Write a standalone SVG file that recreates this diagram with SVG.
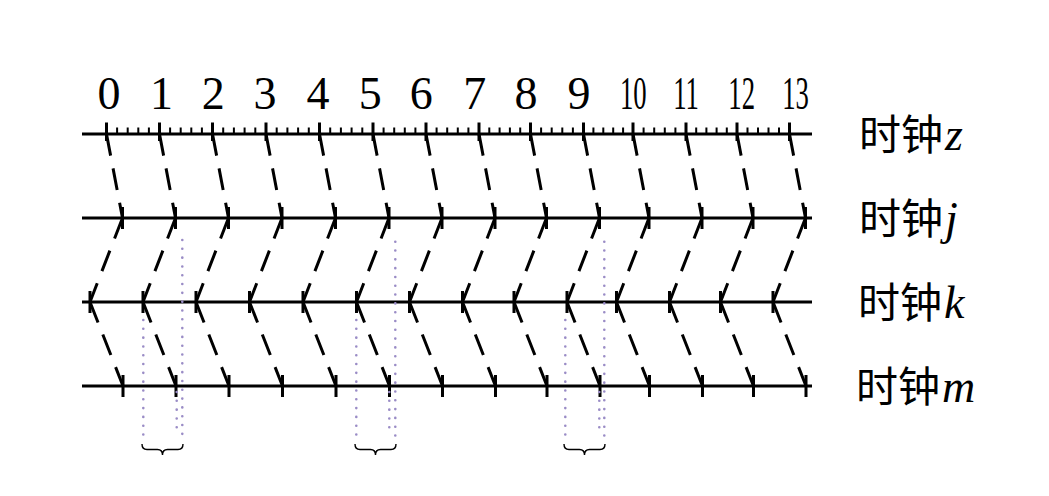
<svg xmlns="http://www.w3.org/2000/svg" width="1049" height="496" viewBox="0 0 1049 496">
<style>
.axis{stroke:#000;stroke-width:3;fill:none}
.tick{stroke:#000;stroke-width:3;fill:none}
.minor{stroke:#000;stroke-width:2;fill:none}
.msg{stroke:#000;stroke-width:3;stroke-dasharray:22 13;fill:none}
.dot{stroke:#9a8cc6;stroke-width:2.6;stroke-linecap:round;stroke-dasharray:0.01 8.8;fill:none}
.brace{stroke:#000;stroke-width:1.4;fill:none}
.num{font-family:"Liberation Serif",serif;font-size:46px;fill:#000;text-anchor:middle}
.lbl{font-family:"Noto Sans CJK SC",sans-serif;font-size:42px;fill:#000}
.var{font-family:"Liberation Serif",serif;font-style:italic;font-size:46px}
</style>
<rect width="1049" height="496" fill="#fff"/>
<g id="scale-labels">
<text class="num" x="109" y="108.5">0</text>
<text class="num" x="161.5" y="108.5">1</text>
<text class="num" x="213.3" y="108.5">2</text>
<text class="num" x="265" y="108.5">3</text>
<text class="num" x="318" y="108.5">4</text>
<text class="num" x="370.3" y="108.5">5</text>
<text class="num" x="421.3" y="108.5">6</text>
<text class="num" x="474.7" y="108.5">7</text>
<text class="num" x="526" y="108.5">8</text>
<text class="num" x="579" y="108.5">9</text>
<text class="num" transform="translate(633.3,108.5) scale(0.58,1)">10</text>
<text class="num" transform="translate(686,108.5) scale(0.58,1)">11</text>
<text class="num" transform="translate(741.7,108.5) scale(0.58,1)">12</text>
<text class="num" transform="translate(795.5,108.5) scale(0.58,1)">13</text>
</g>
<g id="clock-z">
<line class="axis" x1="82" y1="134" x2="812" y2="134"/>
<path class="minor" d="M117.1,127.5V134M127.7,127.5V134M138.3,127.5V134M148.9,127.5V134M170.1,127.5V134M180.7,127.5V134M191.3,127.5V134M201.9,127.5V134M223.2,127.5V134M233.9,127.5V134M244.6,127.5V134M255.3,127.5V134M276.7,127.5V134M287.4,127.5V134M298.1,127.5V134M308.8,127.5V134M330.2,127.5V134M340.9,127.5V134M351.6,127.5V134M362.3,127.5V134M383.6,127.5V134M394.2,127.5V134M404.8,127.5V134M415.4,127.5V134M436.6,127.5V134M447.2,127.5V134M457.8,127.5V134M468.4,127.5V134M489.3,127.5V134M499.6,127.5V134M509.9,127.5V134M520.2,127.5V134M541.1,127.5V134M551.7,127.5V134M562.3,127.5V134M572.9,127.5V134M593.4,127.5V134M603.3,127.5V134M613.2,127.5V134M623.1,127.5V134M643.6,127.5V134M654.2,127.5V134M664.8,127.5V134M675.4,127.5V134M696.2,127.5V134M706.4,127.5V134M716.6,127.5V134M726.8,127.5V134M747.5,127.5V134M758,127.5V134M768.5,127.5V134M779,127.5V134"/>
<path class="tick" d="M106.5,122.5V141M159.5,122.5V141M212.5,122.5V141M266,122.5V141M319.5,122.5V141M373,122.5V141M426,122.5V141M479,122.5V141M530.5,122.5V141M583.5,122.5V141M633,122.5V141M686,122.5V141M737,122.5V141M789.5,122.5V141"/>
<text class="lbl" x="859" y="150">时钟<tspan class="var" dx="2">z</tspan></text>
</g>
<g id="clock-j">
<line class="axis" x1="82" y1="218" x2="812" y2="218"/>
<path class="tick" d="M122.5,207V229M175.5,207V229M228.5,207V229M282,207V229M335.5,207V229M389,207V229M442,207V229M495,207V229M546.5,207V229M599.5,207V229M649,207V229M702,207V229M753,207V229M805.5,207V229"/>
<text class="lbl" x="859" y="234">时钟<tspan class="var" dx="2">j</tspan></text>
</g>
<g id="clock-k">
<line class="axis" x1="82" y1="302" x2="812" y2="302"/>
<path class="tick" d="M90,291V313M143,291V313M196,291V313M249.5,291V313M303,291V313M356.5,291V313M409.5,291V313M462.5,291V313M514,291V313M567,291V313M616.5,291V313M669.5,291V313M720.5,291V313M773,291V313"/>
<text class="lbl" x="858" y="318">时钟<tspan class="var" dx="2">k</tspan></text>
</g>
<g id="clock-m">
<line class="axis" x1="82" y1="386" x2="812" y2="386"/>
<path class="tick" d="M123,375V397M176,375V397M229,375V397M282.5,375V397M336,375V397M389.5,375V397M442.5,375V397M495.5,375V397M547,375V397M600,375V397M649.5,375V397M702.5,375V397M753.5,375V397M806,375V397"/>
<text class="lbl" x="856" y="402">时钟<tspan class="var" dx="2">m</tspan></text>
</g>
<g id="connectors">
<line class="msg" x1="106.5" y1="134" x2="122.5" y2="218"/>
<line class="msg" x1="159.5" y1="134" x2="175.5" y2="218"/>
<line class="msg" x1="212.5" y1="134" x2="228.5" y2="218"/>
<line class="msg" x1="266" y1="134" x2="282" y2="218"/>
<line class="msg" x1="319.5" y1="134" x2="335.5" y2="218"/>
<line class="msg" x1="373" y1="134" x2="389" y2="218"/>
<line class="msg" x1="426" y1="134" x2="442" y2="218"/>
<line class="msg" x1="479" y1="134" x2="495" y2="218"/>
<line class="msg" x1="530.5" y1="134" x2="546.5" y2="218"/>
<line class="msg" x1="583.5" y1="134" x2="599.5" y2="218"/>
<line class="msg" x1="633" y1="134" x2="649" y2="218"/>
<line class="msg" x1="686" y1="134" x2="702" y2="218"/>
<line class="msg" x1="737" y1="134" x2="753" y2="218"/>
<line class="msg" x1="789.5" y1="134" x2="805.5" y2="218"/>
<line class="msg" x1="122.5" y1="218" x2="90" y2="302"/>
<line class="msg" x1="175.5" y1="218" x2="143" y2="302"/>
<line class="msg" x1="228.5" y1="218" x2="196" y2="302"/>
<line class="msg" x1="282" y1="218" x2="249.5" y2="302"/>
<line class="msg" x1="335.5" y1="218" x2="303" y2="302"/>
<line class="msg" x1="389" y1="218" x2="356.5" y2="302"/>
<line class="msg" x1="442" y1="218" x2="409.5" y2="302"/>
<line class="msg" x1="495" y1="218" x2="462.5" y2="302"/>
<line class="msg" x1="546.5" y1="218" x2="514" y2="302"/>
<line class="msg" x1="599.5" y1="218" x2="567" y2="302"/>
<line class="msg" x1="649" y1="218" x2="616.5" y2="302"/>
<line class="msg" x1="702" y1="218" x2="669.5" y2="302"/>
<line class="msg" x1="753" y1="218" x2="720.5" y2="302"/>
<line class="msg" x1="805.5" y1="218" x2="773" y2="302"/>
<line class="msg" x1="90" y1="302" x2="123" y2="386"/>
<line class="msg" x1="143" y1="302" x2="176" y2="386"/>
<line class="msg" x1="196" y1="302" x2="229" y2="386"/>
<line class="msg" x1="249.5" y1="302" x2="282.5" y2="386"/>
<line class="msg" x1="303" y1="302" x2="336" y2="386"/>
<line class="msg" x1="356.5" y1="302" x2="389.5" y2="386"/>
<line class="msg" x1="409.5" y1="302" x2="442.5" y2="386"/>
<line class="msg" x1="462.5" y1="302" x2="495.5" y2="386"/>
<line class="msg" x1="514" y1="302" x2="547" y2="386"/>
<line class="msg" x1="567" y1="302" x2="600" y2="386"/>
<line class="msg" x1="616.5" y1="302" x2="649.5" y2="386"/>
<line class="msg" x1="669.5" y1="302" x2="702.5" y2="386"/>
<line class="msg" x1="720.5" y1="302" x2="753.5" y2="386"/>
<line class="msg" x1="773" y1="302" x2="806" y2="386"/>
</g>
<g id="intervals">
<line class="dot" x1="143.3" y1="320" x2="143.3" y2="437"/>
<line class="dot" x1="182.3" y1="240" x2="182.3" y2="437"/>
<line class="dot" x1="176.7" y1="392" x2="176.7" y2="432"/>
<path class="brace" d="M142,444Q142,449.5 147,449.5L157.5,449.5Q162.5,449.5 162.5,455Q162.5,449.5 167.5,449.5L178,449.5Q183,449.5 183,444"/>
<line class="dot" x1="356.3" y1="320" x2="356.3" y2="438"/>
<line class="dot" x1="395.3" y1="241.7" x2="395.3" y2="438"/>
<line class="dot" x1="389.3" y1="392" x2="389.3" y2="435"/>
<path class="brace" d="M355,444Q355,449.5 360,449.5L370.5,449.5Q375.5,449.5 375.5,455Q375.5,449.5 380.5,449.5L391,449.5Q396,449.5 396,444"/>
<line class="dot" x1="565.3" y1="320" x2="565.3" y2="438"/>
<line class="dot" x1="604.3" y1="241.7" x2="604.3" y2="438"/>
<line class="dot" x1="599.3" y1="392" x2="599.3" y2="435"/>
<path class="brace" d="M564,444Q564,449.5 569,449.5L579.5,449.5Q584.5,449.5 584.5,455Q584.5,449.5 589.5,449.5L600,449.5Q605,449.5 605,444"/>
</g>
</svg>
